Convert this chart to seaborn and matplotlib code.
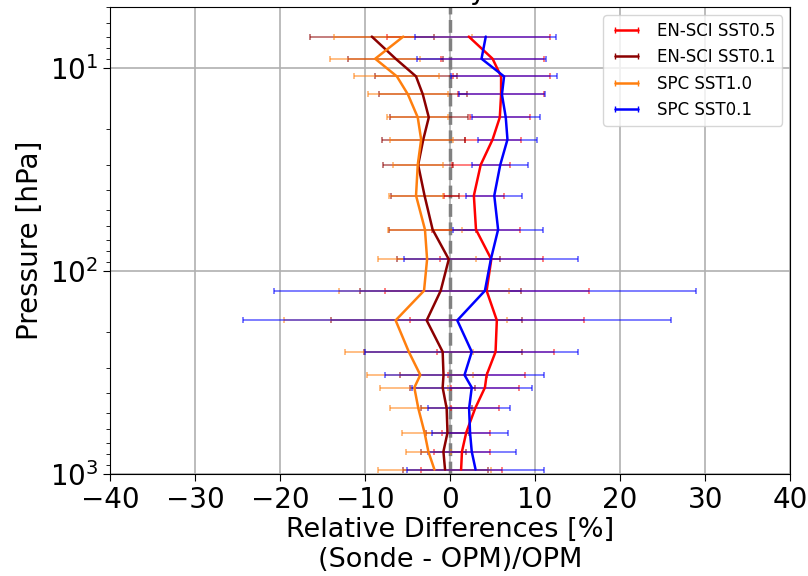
import numpy as np
import pandas as pd
import seaborn as sns
import matplotlib
matplotlib.use("Agg")
import matplotlib.pyplot as plt
from matplotlib.colors import to_rgba
from matplotlib.lines import Line2D

# pressure levels [hPa]
pressure = [7, 9, 11, 13.5, 17.5, 22.5, 30, 42.5, 62.5, 87.5, 125, 175, 250, 325, 375, 475, 625, 775, 950]

# mean relative differences [%] and their spread
ensci05 = [2.2, 5.0, 6.0, 6.0, 5.85, 5.0, 3.6, 2.8, 3.05, 4.85, 4.3, 5.5, 5.35, 4.3, 4.1, 2.95, 1.9, 1.4, 1.3]
ensci05_err = [9.6, 6.1, 5.7, 5.1, 3.5, 3.3, 3.4, 3.5, 5.15, 6.05, 12.0, 10.2, 6.85, 4.5, 3.95, 2.8, 2.8, 3.25, 4.75]

ensci01 = [-9.2, -6.4, -4.0, -3.2, -2.5, -3.15, -3.75, -3.0, -2.05, -0.15, -1.1, -2.75, -0.87, -0.77, -0.87, -0.4, -0.3, -0.78, -0.59]
ensci01_err = [7.3, 5.6, 4.85, 5.2, 4.6, 4.85, 4.15, 4.0, 5.1, 6.05, 9.5, 11.25, 9.3, 5.1, 3.8, 3.0, 2.5, 2.67, 5.0]

spc10 = [-5.5, -8.8, -6.25, -4.95, -3.8, -3.4, -3.8, -4.0, -2.95, -2.7, -3.06, -6.4, -4.85, -3.5, -4.2, -3.73, -3.0, -2.55, -1.84]
spc10_err = [8.1, 5.3, 5.0, 4.65, 3.6, 3.7, 2.95, 3.2, 4.3, 5.8, 10.0, 13.1, 7.55, 6.25, 4.0, 3.33, 2.6, 2.65, 6.66]

spc01 = [4.2, 3.7, 6.35, 6.1, 6.55, 6.75, 5.9, 5.2, 5.65, 4.8, 4.1, 0.85, 2.55, 1.7, 2.55, 2.24, 2.35, 2.55, 3.0]
spc01_err = [8.3, 7.6, 6.25, 5.1, 4.0, 3.5, 3.3, 3.3, 5.25, 10.2, 24.8, 25.15, 12.5, 9.3, 7.05, 4.85, 4.5, 5.15, 8.05]

labels = ['EN-SCI SST0.5', 'EN-SCI SST0.1', 'SPC SST1.0', 'SPC SST0.1']
colors = ['red', 'darkred', '#ff7f0e', 'blue']
means = [ensci05, ensci01, spc10, spc01]
errs = [ensci05_err, ensci01_err, spc10_err, spc01_err]

# long format table for seaborn
frames = []
for lab, m, e in zip(labels, means, errs):
    frames.append(pd.DataFrame({'sonde': lab, 'pressure': pressure, 'diff': m, 'err': e}))
df = pd.concat(frames, ignore_index=True)

sns.set_style("ticks")
plt.rcParams['font.family'] = ['DejaVu Sans']
plt.rcParams['text.color'] = 'black'
plt.rcParams['axes.labelcolor'] = 'black'
plt.rcParams['xtick.color'] = 'black'
plt.rcParams['ytick.color'] = 'black'

fig, ax = plt.subplots(figsize=(8.08, 5.76), dpi=100)
fig.subplots_adjust(left=0.136, right=0.978, top=0.988, bottom=0.177)

#error bars first, semi transparent
for lab, c in zip(labels, colors):
    d = df[df['sonde'] == lab]
    ax.errorbar(d['diff'], d['pressure'], xerr=d['err'], fmt='none',
                ecolor=to_rgba(c, 0.55), elinewidth=1.3, capsize=2, capthick=1.3)

sns.lineplot(data=df, x='diff', y='pressure', hue='sonde', palette=dict(zip(labels, colors)),
             orient='y', sort=False, estimator=None, linewidth=1.8, legend=False, ax=ax)

ax.axvline(0, color='grey', linestyle='--', linewidth=2.5, zorder=1)

ax.set_yscale('log')
ax.set_ylim(1000, 5)
ax.set_xlim(-40, 40)
ax.set_xticks(np.arange(-40, 41, 10))
ax.grid(True, which='major', color='#b0b0b0', linewidth=1.2)
for sp in ax.spines.values():
    sp.set_visible(True)
    sp.set_color('black')

ax.tick_params(axis='both', which='major', labelsize=20, length=5)
ax.tick_params(axis='y', which='minor', length=3)
ax.set_ylabel('Pressure [hPa]', fontsize=20)
ax.set_xlabel('Relative Differences [%]\n(Sonde - OPM)/OPM', fontsize=19.5, labelpad=2)
ax.set_title('Summary Plot', fontsize=20)

handles = [Line2D([], [], color=c, marker='|', markersize=4, linewidth=1.8) for c in colors]
ax.legend(handles, labels, loc='upper right', fontsize=12, numpoints=2, framealpha=0.8)

plt.savefig('out.png', dpi=100)
